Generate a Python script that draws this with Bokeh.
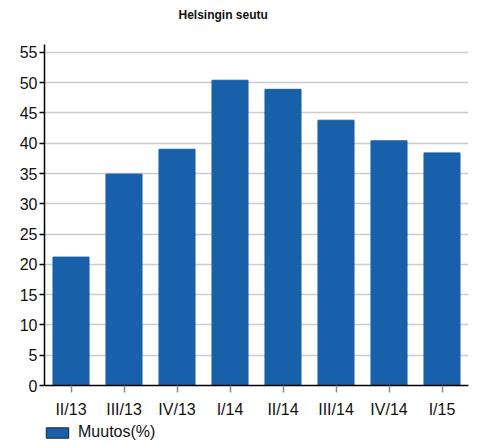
from bokeh.plotting import figure
from bokeh.models import Range1d, FixedTicker, Legend, LegendItem, ColumnDataSource, Title
from bokeh.layouts import column
from bokeh.embed import file_html
from bokeh.resources import INLINE

categories = ["II/13", "III/13", "IV/13", "I/14", "II/14", "III/14", "IV/14", "I/15"]
values = [21.2, 34.9, 39.0, 50.4, 48.9, 43.8, 40.4, 38.4]
y_ticks = [0, 5, 10, 15, 20, 25, 30, 35, 40, 45, 50, 55]
series_name = "Muutos(%)"
title_text = "Helsingin seutu"

BAR = "#1860aa"
FONT = "Liberation Sans"

p = figure(x_range=categories, y_range=Range1d(0, 56.3), width=481, height=420,
           output_backend="svg", toolbar_location=None,
           min_border_left=44, min_border_right=13, min_border_top=44, min_border_bottom=34)
p.outline_line_color = None

# spacer panel between the frame and the title
p.add_layout(Title(text=" ", text_font=FONT, text_font_size="12px", standoff=7), "above")
p.add_layout(Title(text=title_text, text_font=FONT, text_font_size="12px",
                   text_font_style="bold", text_color="#111111", align="left",
                   offset=134, standoff=0), "above")

src = ColumnDataSource(dict(cat=categories, val=values))
p.vbar(x="cat", top="val", width=0.68, source=src, fill_color=BAR, line_color=BAR)

p.xgrid.grid_line_color = None
p.ygrid.grid_line_color = "#cccccc"
p.ygrid.grid_line_width = 1.5

p.yaxis.ticker = FixedTicker(ticks=y_ticks)
p.yaxis.axis_line_color = "#000000"
p.yaxis.axis_line_width = 1.5
p.yaxis.major_tick_line_color = "#000000"
p.yaxis.major_tick_line_width = 1.5
p.yaxis.major_tick_out = 5
p.yaxis.major_tick_in = 0
p.yaxis.minor_tick_line_color = None
p.yaxis.major_label_standoff = 2
p.yaxis.major_label_text_font = FONT
p.yaxis.major_label_text_font_size = "16px"
p.yaxis.major_label_text_color = "#111111"

p.xaxis.axis_line_color = "#000000"
p.xaxis.axis_line_width = 1.5
p.xaxis.major_tick_line_color = "#888888"
p.xaxis.major_tick_line_width = 1.5
p.xaxis.major_tick_out = 7
p.xaxis.major_tick_in = 0
p.xaxis.minor_tick_line_color = None
p.xaxis.major_label_standoff = 8
p.xaxis.major_label_text_font = FONT
p.xaxis.major_label_text_font_size = "16px"
p.xaxis.major_label_text_color = "#111111"

# legend strip below the chart (its renderer is hidden; only the swatch shows)
p2 = figure(x_range=categories, y_range=Range1d(-2, -1), width=481, height=23,
            output_backend="svg", toolbar_location=None,
            x_axis_location=None, y_axis_location=None, min_border=0)
p2.outline_line_color = None
p2.grid.visible = False
leg_r = p2.vbar(x="cat", top="val", width=0.68, source=src, fill_color=BAR,
                line_color="#222222", line_width=1, visible=False)
legend = Legend(items=[LegendItem(label=series_name, renderers=[leg_r])],
                location=(-1, 2), orientation="horizontal",
                glyph_width=28, glyph_height=13, label_standoff=7,
                label_text_font=FONT, label_text_font_size="16px", label_text_color="#111111",
                padding=0, margin=0, spacing=0, border_line_color=None,
                background_fill_alpha=0, inactive_fill_alpha=0, label_height=13)
p2.add_layout(legend, "center")

layout = column(p, p2, spacing=0)
open("out.html", "w").write(file_html(layout, INLINE))
